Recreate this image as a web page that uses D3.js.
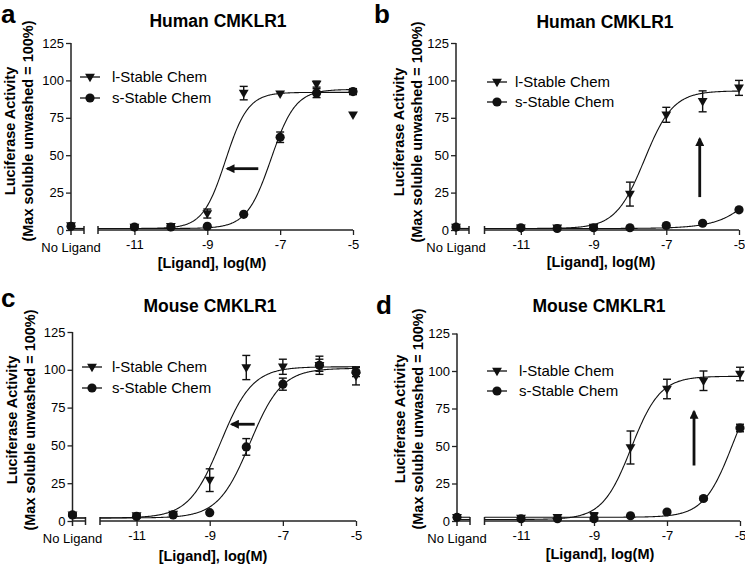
<!DOCTYPE html>
<html>
<head>
<meta charset="utf-8">
<script src="https://cdn.jsdelivr.net/npm/d3@7"></script>
<style>
  html, body { margin: 0; padding: 0; background: #fff; }
  svg { display: block; font-family: "Liberation Sans", Arial, sans-serif; }
</style>
</head>
<body>
<svg id="chart" width="745" height="564"></svg>
<script>
// ---------------- DATA ----------------
const PANEL_LETTERS = ["a", "b", "c", "d"];
const PANEL_TITLES = ["Human CMKLR1", "Human CMKLR1", "Mouse CMKLR1", "Mouse CMKLR1"];
const SERIES_NAMES = ["l-Stable Chem", "s-Stable Chem"];
const Y_TICKS = [0, 25, 50, 75, 100, 125];
const X_TICK_VALUES = [-11, -9, -7, -5];
const X_TICK_LABELS = ["-11", "-9", "-7", "-5"];
const NL_LABEL = "No Ligand";
const X_LABEL = "[Ligand], log(M)";
const Y_LABEL_1 = "Luciferase Activity";
const Y_LABEL_2 = "(Max soluble unwashed = 100%)";
// log doses; each mean/err array starts with the "No Ligand" value
const LOG_DOSES = [-11, -10, -9, -8, -7, -6, -5];

const A_L_MEAN = [3, 2, 2.5, 11, 91.5, 91, 97.5, 77];
const A_L_ERR  = [1, 1, 1, 3, 4.5, 0, 2, 0];
const A_S_MEAN = [2.5, 2, 2, 2.5, 10.5, 62, 91.5, 92.5];
const A_S_ERR  = [1, 0.5, 1, 0.5, 0, 3.5, 3, 2];

const B_L_MEAN = [2, 1.5, 1.5, 2, 24, 77, 86, 95];
const B_L_ERR  = [1, 0.5, 0.5, 1, 8, 5, 7, 5];
const B_S_MEAN = [2, 1.5, 1, 1.5, 1.5, 3, 4.5, 13.5];
const B_S_ERR  = [1, 0.5, 0.5, 0.5, 0.5, 0.5, 0.5, 1];

const C_L_MEAN = [4, 3.5, 4.5, 27, 101.5, 102, 103, 96];
const C_L_ERR  = [1, 1, 1, 7.5, 8, 5, 6, 6];
const C_S_MEAN = [4, 3, 4, 5.5, 49, 90.5, 103, 98.5];
const C_S_ERR  = [1, 1, 1, 0.5, 5.5, 4, 4, 3];

const D_L_MEAN = [2.5, 2, 2.5, 3.5, 49, 88, 93.5, 98];
const D_L_ERR  = [1, 0.5, 0.5, 2, 11, 6.5, 6.5, 4.5];
const D_S_MEAN = [2.5, 1.5, 1.5, 1.5, 3.5, 6, 15, 62];
const D_S_ERR  = [0.5, 0.5, 0.5, 0.5, 0.5, 0.5, 1, 2.5];

// fitted sigmoid parameters: [bottom, top, logEC50, hill]
const A_L_FIT = [1, 92, -8.5, 1.4];
const A_S_FIT = [1, 94, -7.25, 1.3];
const B_L_FIT = [1, 93, -7.6, 1.1];
const B_S_FIT = [1, 100, -3.9, 0.75];
const C_L_FIT = [2, 102, -8.7, 1.0];
const C_S_FIT = [2, 101, -7.9, 1.0];
const D_L_FIT = [1, 96.5, -7.98, 1.1];
const D_S_FIT = [2.5, 100, -5.2, 1.1];

// arrows in data coordinates: [fromLog, fromY, toLog, toY]
const A_ARROW = [-7.6, 41, -8.45, 41];
const B_ARROW = [-6.08, 22, -6.08, 61];
const C_ARROW = [-7.77, 64, -8.4, 64];
const D_ARROW = [-6.26, 37, -6.26, 73];

// ---------------- LAYOUT ----------------
const panels = [
  { mean: [A_L_MEAN, A_S_MEAN], err: [A_L_ERR, A_S_ERR], fit: [A_L_FIT, A_S_FIT], arrow: A_ARROW,
    xNL: 71, x0: 98, x1: 353, yTop: 43, yBot: 230,
    titleX: 218, titleY: 27, letterX: 1, letterY: 23,
    legX: 80, legTextX: 112, legY: [77, 98],
    xlabX: 212, xlabY: 268, ylab1X: 10, ylab2X: 28, ylabY: 131 },
  { mean: [B_L_MEAN, B_S_MEAN], err: [B_L_ERR, B_S_ERR], fit: [B_L_FIT, B_S_FIT], arrow: B_ARROW,
    xNL: 456, x0: 484.5, x1: 739, yTop: 43, yBot: 230,
    titleX: 605, titleY: 28, letterX: 374, letterY: 23,
    legX: 487, legTextX: 515, legY: [82, 102],
    xlabX: 601, xlabY: 267, ylab1X: 399, ylab2X: 417, ylabY: 132 },
  { mean: [C_L_MEAN, C_S_MEAN], err: [C_L_ERR, C_S_ERR], fit: [C_L_FIT, C_S_FIT], arrow: C_ARROW,
    xNL: 72.5, x0: 100, x1: 356, yTop: 332, yBot: 521,
    titleX: 210, titleY: 312, letterX: 1, letterY: 307,
    legX: 82, legTextX: 112, legY: [367, 388],
    xlabX: 213, xlabY: 561, ylab1X: 12, ylab2X: 30, ylabY: 420 },
  { mean: [D_L_MEAN, D_S_MEAN], err: [D_L_ERR, D_S_ERR], fit: [D_L_FIT, D_S_FIT], arrow: D_ARROW,
    xNL: 457, x0: 484.5, x1: 740, yTop: 333.5, yBot: 521,
    titleX: 599, titleY: 312, letterX: 376, letterY: 314,
    legX: 487, legTextX: 519, legY: [371, 391],
    xlabX: 600, xlabY: 559, ylab1X: 400, ylab2X: 418, ylabY: 419 }
];

const svg = d3.select("#chart");
const INK = "#111";
const AXIS = "#222";

const defs = svg.append("defs");
defs.append("marker").attr("id", "arrowhead")
  .attr("viewBox", "0 0 10 10").attr("refX", 8).attr("refY", 5)
  .attr("markerUnits", "userSpaceOnUse")
  .attr("markerWidth", 10).attr("markerHeight", 9)
  .attr("orient", "auto")
  .append("path").attr("d", "M0,0 L10,5 L0,10 z").attr("fill", INK);

function sigmoid(p, x) {
  return p[0] + (p[1] - p[0]) / (1 + Math.pow(10, (p[2] - x) * p[3]));
}

const triSym = d3.symbol().type(d3.symbolTriangle).size(42);

panels.forEach((P, i) => {
  const g = svg.append("g");
  const x = d3.scaleLinear().domain([-12, -5]).range([P.x0, P.x1]);
  const y = d3.scaleLinear().domain([0, 125]).range([P.yBot, P.yTop]);
  const xBreak = P.xNL + 13;

  // letter and title
  g.append("text").attr("x", P.letterX).attr("y", P.letterY)
    .attr("font-size", 26).attr("font-weight", "bold").attr("fill", "#000").text(PANEL_LETTERS[i]);
  g.append("text").attr("x", P.titleX).attr("y", P.titleY).attr("text-anchor", "middle")
    .attr("font-size", 17.5).attr("font-weight", "bold").attr("fill", "#000").text(PANEL_TITLES[i]);

  // y axis
  const yAxis = d3.axisLeft(y).tickValues(Y_TICKS).tickSize(5).tickPadding(2).tickFormat(d3.format("d"));
  const ya = g.append("g").attr("transform", `translate(${P.xNL},0)`).call(yAxis);
  ya.select(".domain").attr("d", `M0,${y(0)}V${y(125)}`).attr("stroke", AXIS).attr("stroke-width", 1.5);
  ya.selectAll(".tick line").attr("stroke", AXIS).attr("stroke-width", 1.3);
  ya.selectAll(".tick text").attr("font-size", 13).attr("font-family", "Liberation Sans, Arial, sans-serif").attr("fill", "#000");

  // x axis: No Ligand segment
  const ax = g.append("g").attr("stroke", AXIS).attr("stroke-width", 1.5).attr("fill", "none");
  ax.append("line").attr("x1", P.xNL).attr("x2", xBreak).attr("y1", P.yBot).attr("y2", P.yBot);
  ax.append("line").attr("x1", P.xNL).attr("x2", P.xNL).attr("y1", P.yBot).attr("y2", P.yBot + 5);
  ax.append("line").attr("x1", xBreak).attr("x2", xBreak).attr("y1", P.yBot - 4).attr("y2", P.yBot + 4);
  // main segment
  const xAxis = d3.axisBottom(x).tickValues(X_TICK_VALUES).tickSize(5).tickPadding(5)
    .tickFormat((d, k) => X_TICK_LABELS[k]);
  const xa = g.append("g").attr("transform", `translate(0,${P.yBot})`).call(xAxis);
  xa.select(".domain").attr("d", `M${x(-12)},0H${x(-5)}`).attr("stroke", AXIS).attr("stroke-width", 1.5);
  xa.selectAll(".tick line").attr("stroke", AXIS).attr("stroke-width", 1.3);
  xa.selectAll(".tick text").attr("font-size", 13).attr("font-family", "Liberation Sans, Arial, sans-serif").attr("fill", "#000");
  ax.append("line").attr("x1", x(-12)).attr("x2", x(-12)).attr("y1", P.yBot - 4).attr("y2", P.yBot + 4);
  g.append("text").attr("x", P.xNL).attr("y", P.yBot + 22).attr("text-anchor", "middle")
    .attr("font-size", 13).attr("fill", "#000").text(NL_LABEL);

  // axis labels
  g.append("text").attr("x", P.xlabX).attr("y", P.xlabY).attr("text-anchor", "middle")
    .attr("font-size", 14.5).attr("font-weight", "bold").attr("fill", "#000").text(X_LABEL);
  g.append("text").attr("transform", `translate(${P.ylab1X + 5},${P.ylabY}) rotate(-90)`)
    .attr("text-anchor", "middle").attr("font-size", 14.5).attr("font-weight", "bold").attr("fill", "#000").text(Y_LABEL_1);
  g.append("text").attr("transform", `translate(${P.ylab2X + 5},${P.ylabY}) rotate(-90)`)
    .attr("text-anchor", "middle").attr("font-size", 14.5).attr("font-weight", "bold").attr("fill", "#000").text(Y_LABEL_2);

  // fitted curves
  const line = d3.line().x(d => x(d[0])).y(d => y(d[1])).curve(d3.curveLinear);
  P.fit.forEach(f => {
    const pts = d3.range(-12, -5.0001, 0.02).concat([-5]).map(v => [v, sigmoid(f, v)]);
    g.append("path").attr("d", line(pts)).attr("fill", "none").attr("stroke", INK).attr("stroke-width", 1.1);
    g.append("line").attr("x1", P.xNL).attr("x2", xBreak)
      .attr("y1", y(f[0])).attr("y2", y(f[0])).attr("stroke", INK).attr("stroke-width", 1.1);
  });

  // error bars and markers
  [1, 0].forEach(s => {
    const means = P.mean[s], errs = P.err[s];
    means.forEach((m, k) => {
      const px = k === 0 ? P.xNL : x(LOG_DOSES[k - 1]);
      const e = errs[k];
      if (e > 0.8) {
        const eg = g.append("g").attr("stroke", INK).attr("stroke-width", 1.4);
        eg.append("line").attr("x1", px).attr("x2", px).attr("y1", y(m - e)).attr("y2", y(m + e));
        eg.append("line").attr("x1", px - 4).attr("x2", px + 4).attr("y1", y(m + e)).attr("y2", y(m + e));
        eg.append("line").attr("x1", px - 4).attr("x2", px + 4).attr("y1", y(m - e)).attr("y2", y(m - e));
      }
      if (s === 0) {
        g.append("path").attr("d", triSym()).attr("fill", INK)
          .attr("transform", `translate(${px},${y(m) - 0.5}) rotate(180)`);
      } else {
        g.append("circle").attr("cx", px).attr("cy", y(m)).attr("r", 4.6).attr("fill", INK);
      }
    });
  });

  // legend
  SERIES_NAMES.forEach((name, s) => {
    const ly = P.legY[s];
    g.append("line").attr("x1", P.legX).attr("x2", P.legX + 20).attr("y1", ly).attr("y2", ly)
      .attr("stroke", INK).attr("stroke-width", 1.3);
    if (s === 0) {
      g.append("path").attr("d", triSym()).attr("fill", INK)
        .attr("transform", `translate(${P.legX + 10},${ly - 0.5}) rotate(180)`);
    } else {
      g.append("circle").attr("cx", P.legX + 10).attr("cy", ly).attr("r", 4.6).attr("fill", INK);
    }
    g.append("text").attr("x", P.legTextX).attr("y", ly).attr("dy", "0.35em")
      .attr("font-size", 15).attr("fill", "#000").text(name);
  });

  // arrow
  const a = P.arrow;
  g.append("line").attr("x1", x(a[0])).attr("y1", y(a[1])).attr("x2", x(a[2])).attr("y2", y(a[3]))
    .attr("stroke", INK).attr("stroke-width", 2.8).attr("marker-end", "url(#arrowhead)");
});
</script>
</body>
</html>
